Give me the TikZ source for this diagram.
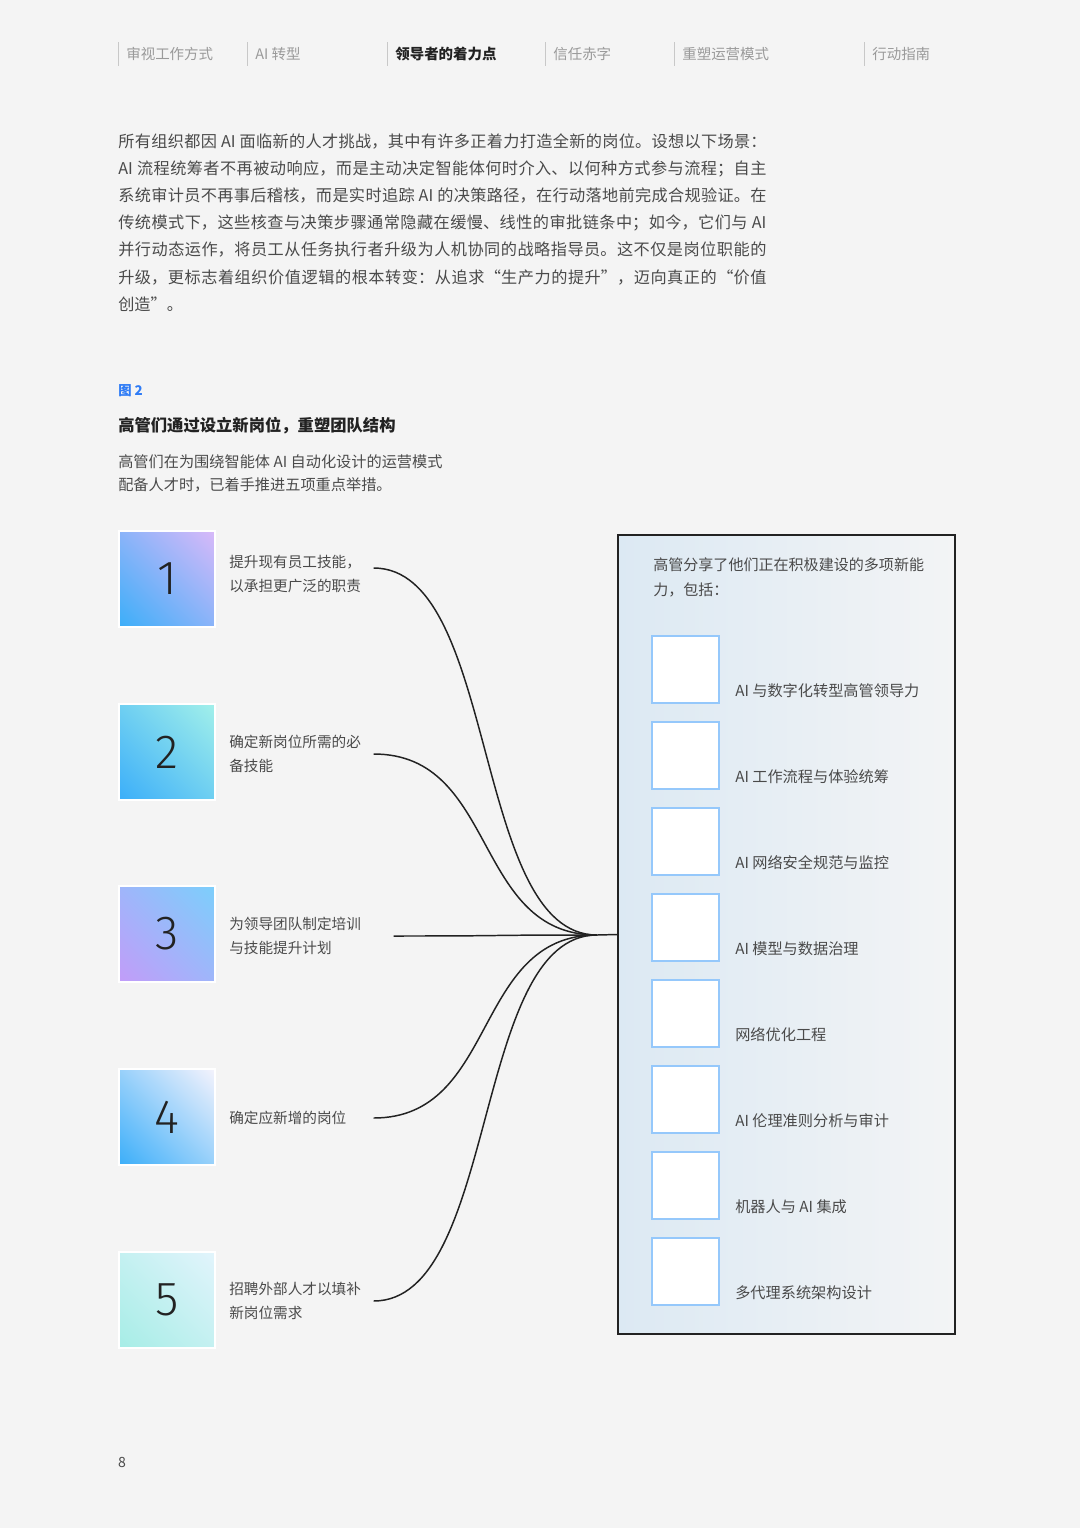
\documentclass[tikz,border=0pt]{standalone}
\usepackage{fontspec}
\setmainfont{Noto Sans CJK SC}
\newfontfamily\digitfont{Fira Sans Light}
\usepackage{xcolor}
\usepackage{tikz}
\usetikzlibrary{positioning,shadings}
\XeTeXlinebreaklocale "zh"
\XeTeXlinebreakskip=0pt plus 1pt
\definecolor{RPPage}{HTML}{F4F4F4}
\definecolor{RPInk}{HTML}{222222}
\definecolor{RPText}{HTML}{4A4A4A}
\definecolor{RPMute}{HTML}{9A9A9A}
\definecolor{RPRule}{HTML}{C8C8C8}
\definecolor{RPBlue}{HTML}{2F7CF6}
\definecolor{RPSky}{HTML}{3BAEF9}
\definecolor{RPLilac}{HTML}{D9B9F9}
\definecolor{RPAqua}{HTML}{A2F0EA}
\definecolor{RPViolet}{HTML}{C29CF9}
\definecolor{RPCyan}{HTML}{7CCFFB}
\definecolor{RPMist}{HTML}{F5F3FC}
\definecolor{RPMint}{HTML}{A6EDE6}
\definecolor{RPFrost}{HTML}{E2F4FC}
\definecolor{RPPanelL}{HTML}{DCE9F3}
\definecolor{RPPanelR}{HTML}{F3F4F5}
\definecolor{RPIconEdge}{HTML}{95C8FB}

\begin{document}
\begin{tikzpicture}[x=0.025cm,y=-0.025cm,
    tab/.style={anchor=west,inner sep=0pt,font=\fontsize{10.3pt}{12pt}\selectfont},
    para/.style={anchor=north west,inner sep=0pt,text width=16.2cm,align=justify,text=RPText,font=\fontsize{11.5pt}{19.35pt}\selectfont},
    numbox/.style={draw=white,line width=0.8pt,minimum size=2.4cm,inner sep=0pt,text=RPInk,font=\digitfont\fontsize{34pt}{34pt}\selectfont},
    stepnote/.style={anchor=west,inner sep=0pt,text width=3.6cm,align=left,text=RPText,font=\fontsize{10.4pt}{17pt}\selectfont},
    iconbox/.style={draw=RPIconEdge,fill=white,line width=0.8pt,minimum size=1.675cm,inner sep=0pt},
    skill/.style={anchor=west,inner sep=0pt,text=RPText,font=\fontsize{10.8pt}{12pt}\selectfont},
    link/.style={RPInk,line width=1.05pt}]
    \useasboundingbox (0,0) rectangle (1080,1528);
    \fill[RPPage] (0,0) rectangle (1080,1528);

    % top tabs
    \foreach \k/\x/\c/\w/\t in {1/118/RPMute/\mdseries/审视工作方式,2/247/RPMute/\mdseries/AI 转型,3/387/RPInk/\bfseries/领导者的着力点,4/545/RPMute/\mdseries/信任赤字,5/674/RPMute/\mdseries/重塑运营模式,6/864/RPMute/\mdseries/行动指南} {
      \draw[RPRule,line width=0.6pt] (\x,42) -- (\x,66);
      \node[tab,text=\c] (tab\k) at (\x+8,54) {\w\t};
    }

    \node[para] (intro) at (118,133) {所有组织都因 AI 面临新的人才挑战，其中有许多正着力打造全新的岗位。设想以下场景：\linebreak
      AI 流程统筹者不再被动响应，而是主动决定智能体何时介入、以何种方式参与流程；自主\linebreak
      系统审计员不再事后稽核，而是实时追踪 AI 的决策路径，在行动落地前完成合规验证。在\linebreak
      传统模式下，这些核查与决策步骤通常隐藏在缓慢、线性的审批链条中；如今，它们与 AI\linebreak
      并行动态运作，将员工从任务执行者升级为人机协同的战略指导员。这不仅是岗位职能的\linebreak
      升级，更标志着组织价值逻辑的根本转变：从追求“生产力的提升”，迈向真正的“价值\linebreak
      创造”。};

    % figure heading
    \node[anchor=west,inner sep=0pt,text=RPBlue,font=\fontsize{9.5pt}{11pt}\selectfont\bfseries] (fignum) at (118,391) {图 2};
    \node[anchor=west,inner sep=0pt,text=RPInk,font=\fontsize{11.6pt}{14pt}\selectfont\bfseries] (figtitle) at (118,426) {高管们通过设立新岗位，重塑团队结构};
    \node[anchor=north west,inner sep=0pt,align=left,text=RPText,font=\fontsize{10.8pt}{16.4pt}\selectfont] (figsub) at (118,454) {高管们在为围绕智能体 AI 自动化设计的运营模式\\配备人才时，已着手推进五项重点举措。};

    % five steps
    \foreach \n/\y/\t/\lo/\hi/\note in {1/579/574/RPSky/RPLilac/{提升现有员工技能，\\以承担更广泛的职责},
        2/752/754/RPSky/RPAqua/{确定新岗位所需的必\\备技能},
        3/934/936/RPViolet/RPCyan/{为领导团队制定培训\\与技能提升计划},
        4/1117/1118/RPSky/RPMist/{确定应新增的岗位},
        5/1300/1301/RPMint/RPFrost/{招聘外部人才以填补\\新岗位需求}} {
      \node[numbox,shading=bilinear interpolation,lower left=\lo,upper right=\hi,upper left=\lo!50!\hi,lower right=\lo!50!\hi] (num\n) at (167,\y) {\n};
      \node[stepnote] (note\n) at (229,\t) {\note};
    }

    % capability panel
    \node[draw=RPInk,line width=1pt,left color=RPPanelL,right color=RPPanelR,minimum width=8.425cm,minimum height=19.975cm,inner sep=0pt] (panel) at (786.5,934.5) {};
    \node[anchor=north west,inner sep=0pt,align=left,text=RPText,font=\fontsize{10.7pt}{17.8pt}\selectfont] (paneltext) at (653,557) {高管分享了他们正在积极建设的多项新能\\力，包括：};
    \foreach \k/\t in {0/AI 与数字化转型高管领导力,1/AI 工作流程与体验统筹,2/AI 网络安全规范与监控,3/AI 模型与数据治理,4/网络优化工程,5/AI 伦理准则分析与审计,6/机器人与 AI 集成,7/多代理系统架构设计} {
      \node[iconbox] (icon\k) at (685.5,669.5+86*\k) {};
      \node[skill] (skill\k) at (735,691+86*\k) {\t};
    }

    % connectors into the panel
    \coordinate (hub) at (597,935);
    \foreach \n/\g/\h in {1/0/0.15,2/0/0,3/0.5/0,4/0/0,5/0/0} {
      \draw[link] ([xshift=\g cm,yshift=\h cm]note\n.east) .. controls +(125,0) and +(-125,0) .. (hub);
    }
    \draw[link] (hub) -- (panel.west);

    \node[inner sep=0pt,text=RPText,font=\fontsize{10pt}{12pt}\selectfont] (pagenum) at (122,1462) {8};
  \end{tikzpicture}
\end{document}
